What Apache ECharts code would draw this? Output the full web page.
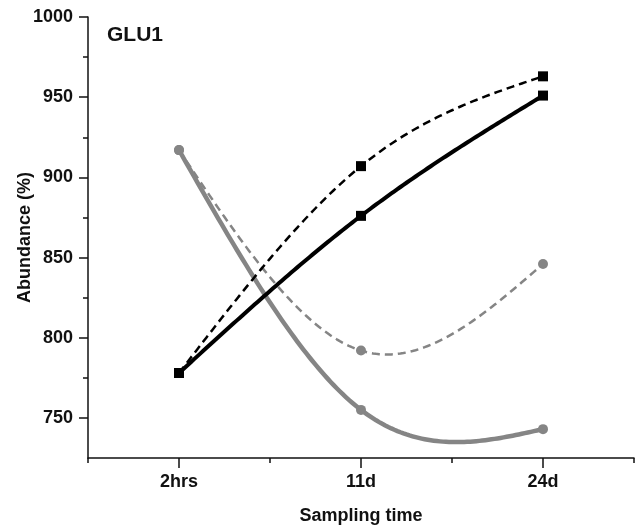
<!DOCTYPE html>
<html>
<head>
<meta charset="utf-8">
<script src="https://cdn.jsdelivr.net/npm/echarts@6/dist/echarts.min.js"></script>
<style>
  html, body { margin: 0; padding: 0; background: #fff; }
  #chart { width: 636px; height: 529px; }
</style>
</head>
<body>
<div id="chart"></div>
<script>
// Sampling times and GLU1 abundance values
const categories = ['2hrs', '11d', '24d'];
const blackSolid = [778, 876, 951];
const blackDashed = [778, 907, 963];
const graySolid = [917, 755, 743];
const grayDashed = [917, 792, 846];

// Axis ticks
const yLabelValues = [750, 800, 850, 900, 950, 1000];
const yMinorValues = [775, 825, 875, 925, 975];
const xMinorValues = [0.5, 1.5, 2.5, 3.5];
const xMajorValues = categories.map((c, i) => i + 1);

const FONT = '"Liberation Sans", Arial, sans-serif';
const GRAY = '#858585';
const INK = '#111';

function toPoints(values) {
  return values.map((v, i) => [i + 1, v]);
}

// Natural cubic spline through the (x, y) points; returns a function of x.
function naturalSpline(pts) {
  const n = pts.length;
  const xs = pts.map(p => p[0]);
  const ys = pts.map(p => p[1]);
  const h = [];
  for (let i = 0; i < n - 1; i++) h.push(xs[i + 1] - xs[i]);
  // Solve tridiagonal system for second derivatives (M0 = Mn-1 = 0)
  const M = new Array(n).fill(0);
  if (n > 2) {
    const a = [], b = [], c = [], d = [];
    for (let i = 1; i < n - 1; i++) {
      a.push(h[i - 1]);
      b.push(2 * (h[i - 1] + h[i]));
      c.push(h[i]);
      d.push(6 * ((ys[i + 1] - ys[i]) / h[i] - (ys[i] - ys[i - 1]) / h[i - 1]));
    }
    const m = b.length;
    for (let i = 1; i < m; i++) {
      const w = a[i] / b[i - 1];
      b[i] -= w * c[i - 1];
      d[i] -= w * d[i - 1];
    }
    const sol = new Array(m);
    sol[m - 1] = d[m - 1] / b[m - 1];
    for (let i = m - 2; i >= 0; i--) sol[i] = (d[i] - c[i] * sol[i + 1]) / b[i];
    for (let i = 0; i < m; i++) M[i + 1] = sol[i];
  }
  return function (x) {
    let i = 0;
    while (i < n - 2 && x > xs[i + 1]) i++;
    const hi = h[i];
    const A = (xs[i + 1] - x) / hi;
    const B = (x - xs[i]) / hi;
    return A * ys[i] + B * ys[i + 1] +
      ((A * A * A - A) * M[i] + (B * B * B - B) * M[i + 1]) * hi * hi / 6;
  };
}

// A custom series that draws a spline curve through the given values
function curveSeries(name, values, color, width, dash) {
  const pts = toPoints(values);
  const f = naturalSpline(pts);
  return {
    name: name,
    type: 'custom',
    coordinateSystem: 'cartesian2d',
    data: pts,
    silent: true,
    renderItem: function (params, api) {
      if (params.dataIndex !== 0) return null;
      const x0 = pts[0][0], x1 = pts[pts.length - 1][0];
      const steps = 120;
      const path = [];
      for (let k = 0; k <= steps; k++) {
        const x = x0 + (x1 - x0) * k / steps;
        path.push(api.coord([x, f(x)]));
      }
      return {
        type: 'polyline',
        shape: { points: path },
        style: { fill: null, stroke: color, lineWidth: width, lineDash: dash || null, lineCap: 'butt', lineJoin: 'round' }
      };
    }
  };
}

function markerSeries(name, values, symbol, color) {
  return {
    name: name,
    type: 'scatter',
    data: toPoints(values),
    symbol: symbol,
    symbolSize: 10,
    itemStyle: { color: color, opacity: 1 },
    silent: true
  };
}

const chart = echarts.init(document.getElementById('chart'), null, { renderer: 'canvas' });

const baseX = { type: 'value', min: 0.5, max: 3.5, position: 'bottom', splitLine: { show: false } };
const baseY = { type: 'value', min: 725, max: 1000, position: 'left', splitLine: { show: false } };

chart.setOption({
  backgroundColor: '#ffffff',
  animation: false,
  title: {
    text: 'GLU1',
    left: 102,
    top: 20,
    textStyle: { fontFamily: FONT, fontWeight: 'bold', fontSize: 21, color: INK }
  },
  grid: { left: 88, right: 2, top: 17, bottom: 71, containLabel: false, outerBoundsMode: 'none' },
  xAxis: [
    Object.assign({}, baseX, {
      name: 'Sampling time',
      nameLocation: 'middle',
      nameGap: 49,
      nameMoveOverlap: false,
      nameTextStyle: { fontFamily: FONT, fontWeight: 'bold', fontSize: 18, color: INK },
      axisLine: { show: true, onZero: false, lineStyle: { color: INK, width: 1.5 } },
      axisTick: { show: true, length: 10, customValues: xMajorValues, lineStyle: { color: INK, width: 1.5 } },
      axisLabel: {
        show: true, margin: 15, customValues: xMajorValues,
        fontFamily: FONT, fontWeight: 'bold', fontSize: 18, color: INK,
        formatter: v => categories[Math.round(v) - 1] || ''
      }
    }),
    Object.assign({}, baseX, {
      axisLine: { show: false, onZero: false },
      axisTick: { show: true, length: 5, customValues: xMinorValues, lineStyle: { color: INK, width: 1.5 } },
      axisLabel: { show: false }
    })
  ],
  yAxis: [
    Object.assign({}, baseY, {
      name: 'Abundance (%)',
      nameLocation: 'middle',
      nameGap: 54,
      nameRotate: 90,
      nameMoveOverlap: false,
      nameTextStyle: { fontFamily: FONT, fontWeight: 'bold', fontSize: 18, color: INK },
      axisLine: { show: true, onZero: false, lineStyle: { color: INK, width: 1.5 } },
      axisTick: { show: true, length: 9, customValues: yLabelValues, lineStyle: { color: INK, width: 1.5 } },
      axisLabel: {
        show: true, margin: 15, customValues: yLabelValues,
        fontFamily: FONT, fontWeight: 'bold', fontSize: 18, color: INK,
        formatter: v => String(v)
      }
    }),
    Object.assign({}, baseY, {
      axisLine: { show: false, onZero: false },
      axisTick: { show: true, length: 5, customValues: yMinorValues, lineStyle: { color: INK, width: 1.5 } },
      axisLabel: { show: false }
    })
  ],
  series: [
    curveSeries('gray dashed', grayDashed, GRAY, 2.5, [8, 5]),
    curveSeries('gray solid', graySolid, GRAY, 4.5),
    curveSeries('black dashed', blackDashed, '#000', 2.5, [8, 5]),
    curveSeries('black solid', blackSolid, '#000', 4),
    markerSeries('gray dashed points', grayDashed, 'circle', GRAY),
    markerSeries('gray solid points', graySolid, 'circle', GRAY),
    markerSeries('black dashed points', blackDashed, 'rect', '#000'),
    markerSeries('black solid points', blackSolid, 'rect', '#000')
  ]
});
</script>
</body>
</html>
